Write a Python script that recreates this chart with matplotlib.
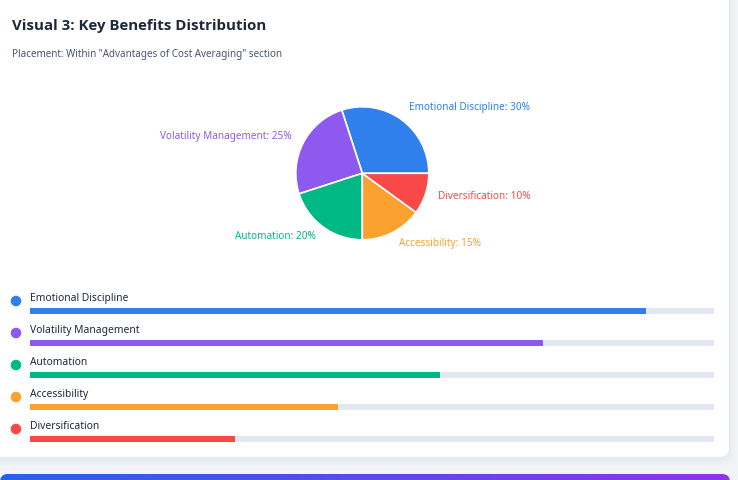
import matplotlib.pyplot as plt
import matplotlib.transforms as mtransforms
from matplotlib.patches import FancyBboxPatch
from matplotlib.colors import LinearSegmentedColormap
import numpy as np

# --- data ---
benefits = ["Emotional Discipline", "Volatility Management", "Automation",
            "Accessibility", "Diversification"]
shares = [30, 25, 20, 15, 10]
progress = [90, 75, 60, 45, 30]
colors = ["#2f80ed", "#8e59ef", "#00b884", "#fba12f", "#f94848"]

title = "Visual 3: Key Benefits Distribution"
subtitle = 'Placement: Within "Advantages of Cost Averaging" section'

plt.rcParams["font.family"] = ["Noto Sans", "DejaVu Sans"]

W, H = 738, 480
fig = plt.figure(figsize=(W / 100, H / 100), dpi=100)
fig.patch.set_facecolor("#f1f3f6")

# background layer in pixel coords (y down)
bg = fig.add_axes([0, 0, 1, 1])
bg.axis("off")

# card shadow + card
for i, a in enumerate([0.025, 0.03, 0.04]):
    s = 6 - 2 * i
    bg.add_patch(FancyBboxPatch((-20 - s, -20 - s + 2), 749 + 2 * s, 477 + 2 * s,
                                boxstyle="round,pad=0,rounding_size=14",
                                fc="#94a3b8", ec="none", alpha=a))
bg.add_patch(FancyBboxPatch((-20, -20), 749, 477,
                            boxstyle="round,pad=0,rounding_size=10",
                            fc="white", ec="none"))

# gradient strip at the bottom
grad = np.linspace(0, 1, 256).reshape(1, -1)
cmap = LinearSegmentedColormap.from_list("g", ["#2563eb", "#9333ea"])
strip = FancyBboxPatch((0, 474), 730, 20, boxstyle="round,pad=0,rounding_size=8",
                       fc="none", ec="none")
bg.add_patch(strip)
im = bg.imshow(grad, cmap=cmap, extent=(0, 730, 490, 474), aspect="auto")
im.set_clip_path(strip)
bg.set_xlim(0, W)
bg.set_ylim(H, 0)

bg.text(12, 26, title, fontsize=10.8, fontweight="bold", color="#1e293b",
        va="center", ha="left", family=["Open Sans", "DejaVu Sans"])
bg.text(12, 55, subtitle, fontsize=7.1, color="#475569", va="center", ha="left")

# --- pie ---
cx, cy, r = 362.3, 173.3, 66.5
half = 100
pax = fig.add_axes([(cx - half) / W, 1 - (cy + half) / H, 2 * half / W, 2 * half / H])
lim = half / r
pax.set_aspect("equal")
pax.axis("off")
wedges, texts = pax.pie(shares, colors=colors, startangle=0, counterclock=True,
                        labels=[f"{b}: {s}%" for b, s in zip(benefits, shares)],
                        labeldistance=1.2,
                        wedgeprops=dict(edgecolor="white", linewidth=1.2))
shift = mtransforms.offset_copy(pax.transData, fig=fig, x=0, y=1, units="dots")
for t, c in zip(texts, colors):
    t.set_color(c)
    t.set_fontsize(7.2)
    t.set_transform(shift)
pax.set_xlim(-lim, lim)
pax.set_ylim(-lim, lim)

# --- progress bars ---
row_px = 32
y_top = 311 - 0.6 * row_px
bax = fig.add_axes([30 / W, 1 - (y_top + 5.2 * row_px) / H, 684 / W, 5.2 * row_px / H])
bax.set_xlim(0, 100)
bax.set_ylim(4.6, -0.6)
bax.axis("off")
rows = np.arange(len(benefits))
bar_h = 6 / row_px
bax.barh(rows, 100, height=bar_h, left=0, color="#e2e8f0")
bax.barh(rows, progress, height=bar_h, left=0, color=colors)
for i, (name, c) in enumerate(zip(benefits, colors)):
    bax.text(0, i - 13 / row_px, name, fontsize=7.4, color="#1e293b",
             va="center", ha="left")
    bax.scatter([-2.05], [i - 10 / row_px], s=58, color=c, clip_on=False,
                edgecolors="none")

fig.savefig("out.png", dpi=100, facecolor=fig.get_facecolor())
